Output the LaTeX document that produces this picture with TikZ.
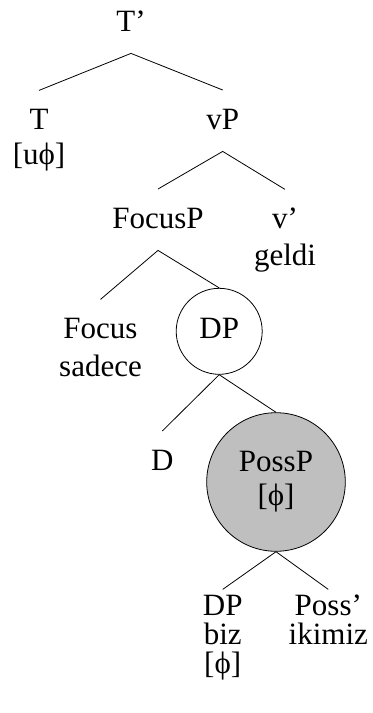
\documentclass[tikz,border=0pt]{standalone}
\usepackage{fontspec}
\setmainfont{Liberation Serif}
\begin{document}
\begin{tikzpicture}[x=0.5pt,y=-0.5pt,
  every node/.style={font=\fontsize{15.5}{17.5}\selectfont},
  lbl/.style={anchor=base,align=center,inner xsep=1pt,inner ysep=9pt,
    text height=10.3pt,text depth=2pt},
  lblm/.style={anchor=north,align=center,inner xsep=1pt,inner ysep=9pt},
  ring/.style={draw,circle,inner sep=0pt,align=center}]
  \useasboundingbox (0,0) rectangle (372,713);
  \node[lbl] (Tbar) at (131,31) {T’};
  \node[lblm] (T) at (39,90.4) {T\\{}[uϕ]};
  \node[lbl] (vP) at (222.7,129) {vP};
  \node[lbl] (FocP) at (158,228) {FocusP};
  \node[lblm,font=\fontsize{15.5}{18.5}\selectfont] (vbar) at (285,189.4) {v’\\geldi};
  \node[lblm,font=\fontsize{15.5}{19}\selectfont] (Foc) at (100.5,299.4) {Focus\\sadece};
  \node[ring,minimum size=43pt,text height=10.3pt,text depth=3pt] (DPa) at (219.2,331.3) {DP};
  \node[lbl] (D) at (162.3,470) {D};
  \node[ring,minimum size=69.3pt,fill=black!25,font=\fontsize{15.5}{17}\selectfont]
    (PossP) at (276,482) {PossP\\{}[ϕ]};
  \node[lblm,inner ysep=2.5pt,font=\fontsize{15.5}{14.5}\selectfont] (DPb) at (222.7,589.4) {DP\\biz\\{}[ϕ]};
  \node[lblm,inner ysep=2.5pt,font=\fontsize{15.5}{14.5}\selectfont] (Possbar) at (328.3,589.4) {Poss’\\ikimiz};
  \draw (T.north) -- (Tbar.south) -- (vP.north);
  \draw (FocP.north) -- (vP.south) -- (vbar.north);
  \draw (Foc.north) -- (FocP.south) -- (DPa.north);
  \draw (D.north) -- (DPa.south) -- (PossP.north);
  \draw (DPb.north) -- (PossP.south) -- (Possbar.north);
\end{tikzpicture}
\end{document}
